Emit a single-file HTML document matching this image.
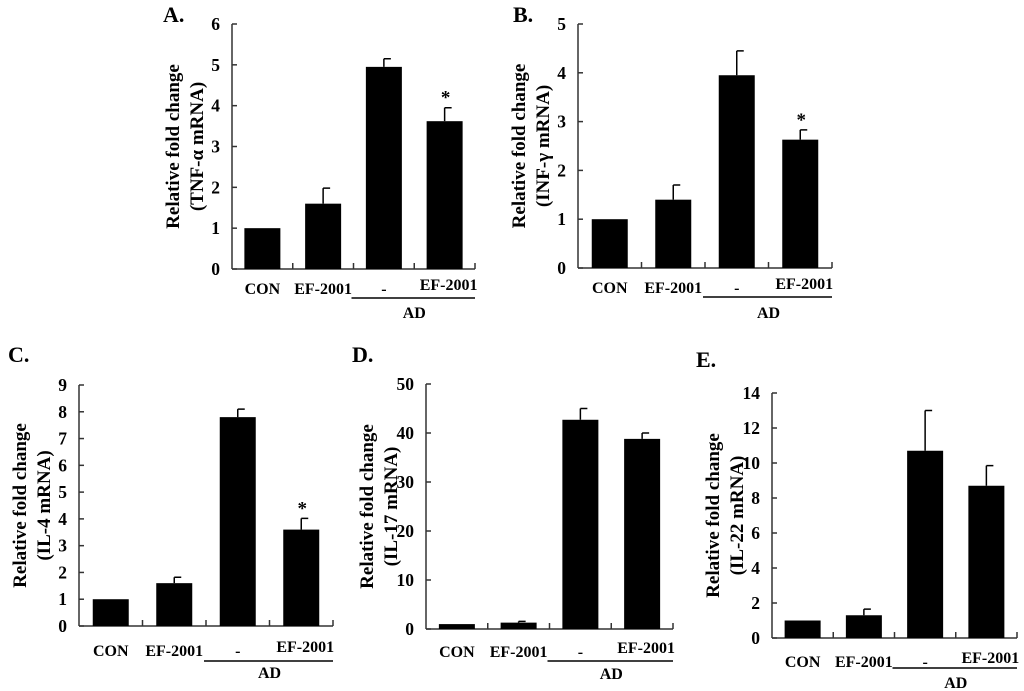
<!DOCTYPE html>
<html><head><meta charset="utf-8">
<style>
html,body{margin:0;padding:0;background:#fff;}
svg{display:block;font-family:"Liberation Serif",serif;font-weight:bold;}
</style></head>
<body>
<svg id="fig" width="1024" height="691" viewBox="0 0 1024 691" xmlns="http://www.w3.org/2000/svg"></svg>
<script>
const categories = ["CON","EF-2001","-","EF-2001"];
const groupLabel = "AD";
const valsA = [1, 1.6, 4.95, 3.62];
const errA  = [0, 0.38, 0.2, 0.33];
const ticksA = [0,1,2,3,4,5,6];
const valsB = [1, 1.4, 3.95, 2.63];
const errB  = [0, 0.3, 0.5, 0.2];
const ticksB = [0,1,2,3,4,5];
const valsC = [1, 1.6, 7.8, 3.6];
const errC  = [0, 0.22, 0.3, 0.42];
const ticksC = [0,1,2,3,4,5,6,7,8,9];
const valsD = [1, 1.3, 42.7, 38.8];
const errD  = [0, 0.25, 2.3, 1.2];
const ticksD = [0,10,20,30,40,50];
const valsE = [1, 1.3, 10.7, 8.7];
const errE  = [0, 0.35, 2.3, 1.15];
const ticksE = [0,2,4,6,8,10,12,14];
const starA = [false,false,false,true];
const starB = [false,false,false,true];
const starC = [false,false,false,true];
const starD = [false,false,false,false];
const starE = [false,false,false,false];

const svg = document.getElementById('fig');
const NS = 'http://www.w3.org/2000/svg';
function mk(tag, attrs, parent){
  const e = document.createElementNS(NS, tag);
  for (const k in attrs) e.setAttribute(k, attrs[k]);
  parent.appendChild(e);
  return e;
}
const panels = [
  {id:'a', letter:'A.', lx:163, ly:22, x0:232, x1:475, y0:269, y1:24, ticks:ticksA, vals:valsA, errs:errA, stars:starA, t2:'(TNF-\u03b1 mRNA)', labY:294, lineY:298, adY:318},
  {id:'b', letter:'B.', lx:513, ly:22, x0:578, x1:832, y0:268, y1:24, ticks:ticksB, vals:valsB, errs:errB, stars:starB, t2:'(INF-\u03b3 mRNA)', labY:293, lineY:297, adY:318},
  {id:'c', letter:'C.', lx:8, ly:362, x0:79, x1:333, y0:626, y1:385, ticks:ticksC, vals:valsC, errs:errC, stars:starC, t2:'(IL-4 mRNA)', labY:656, lineY:661, adY:678},
  {id:'d', letter:'D.', lx:352, ly:362, x0:426, x1:673, y0:629, y1:384, ticks:ticksD, vals:valsD, errs:errD, stars:starD, t2:'(IL-17 mRNA)', labY:657, lineY:661, adY:679},
  {id:'e', letter:'E.', lx:696, ly:367, x0:772, x1:1017, y0:638, y1:393, ticks:ticksE, vals:valsE, errs:errE, stars:starE, t2:'(IL-22 mRNA)', labY:667, lineY:668, adY:688}
];
panels.forEach(p => {
  const g = mk('g', {}, svg);
  
  
  const tmax = p.ticks[p.ticks.length-1];
  const yS = v => p.y0 - (v / tmax) * (p.y0 - p.y1);
  const cw = (p.x1 - p.x0) / categories.length;
  const xC = i => p.x0 + cw * (i + 0.5);
  const bw = 36;
  const t = mk('text', {x:p.lx, y:p.ly, 'font-size':22}, g);
  t.textContent = p.letter;
  
  
  const ya = mk('line', {x1:p.x0, y1:p.y1, x2:p.x0, y2:p.y0, stroke:'#333', 'stroke-width':1.5}, g);
  
  
  p.ticks.forEach(tv => {
    const y = yS(tv);
    mk('line', {x1:p.x0, y1:y, x2:p.x0+5, y2:y, stroke:'#333', 'stroke-width':1.5}, g);
    const tl = mk('text', {x:p.x0-12, y:y+6, 'font-size':17.5, 'text-anchor':'end'}, g);
    tl.textContent = tv;
    
    
  });
  const xa = mk('line', {x1:p.x0, y1:p.y0, x2:p.x1, y2:p.y0, stroke:'#333', 'stroke-width':1.5}, g);
  
  
  for (let i = 1; i <= categories.length; i++) {
    const x = p.x0 + cw * i;
    mk('line', {x1:x, y1:p.y0, x2:x, y2:p.y0-6, stroke:'#333', 'stroke-width':1.5}, g);
  }
  const cy = (p.y0 + p.y1) / 2;
  const tx1 = p.x0 - 53, tx2 = p.x0 - 29;
  const yt1 = mk('text', {x:tx1, y:cy, 'font-size':19, 'text-anchor':'middle', transform:`rotate(-90 ${tx1} ${cy})`}, g);
  yt1.textContent = 'Relative fold change';
  
  
  const yt2 = mk('text', {x:tx2, y:cy, 'font-size':19, 'text-anchor':'middle', transform:`rotate(-90 ${tx2} ${cy})`}, g);
  yt2.textContent = p.t2;
  
  
  p.vals.forEach((v, i) => {
    const x = xC(i), top = yS(v);
    const b = mk('rect', {x:x-bw/2, y:top, width:bw, height:p.y0-top, fill:'#000'}, g);
    
    
    const e = p.errs[i];
    if (e > 0) {
      const et = yS(v + e);
      const el = mk('path', {d:`M${x} ${top} V${et} M${x} ${et} H${x+7}`, stroke:'#000', 'stroke-width':1.5, fill:'none'}, g);
      
      
    }
    if (p.stars[i]) {
      const st = mk('text', {x:x+1, y:yS(v+e)-4, 'font-size':19, 'text-anchor':'middle'}, g);
      st.textContent = '*';
      
      
    }
    const cl = mk('text', {x:x + (i===3 ? 4 : 0), y:(i===3 ? p.labY-4 : p.labY), 'font-size':16, 'text-anchor':'middle'}, g);
    cl.textContent = categories[i];
    
    
  });
  const gl = mk('line', {x1:p.x0 + cw*2 - 2, y1:p.lineY, x2:p.x1, y2:p.lineY, stroke:'#000', 'stroke-width':1.5}, g);
  
  
  const ad = mk('text', {x:p.x0 + cw*3, y:p.adY, 'font-size':16, 'text-anchor':'middle'}, g);
  ad.textContent = groupLabel;
  
  
});
</script>
</body></html>
